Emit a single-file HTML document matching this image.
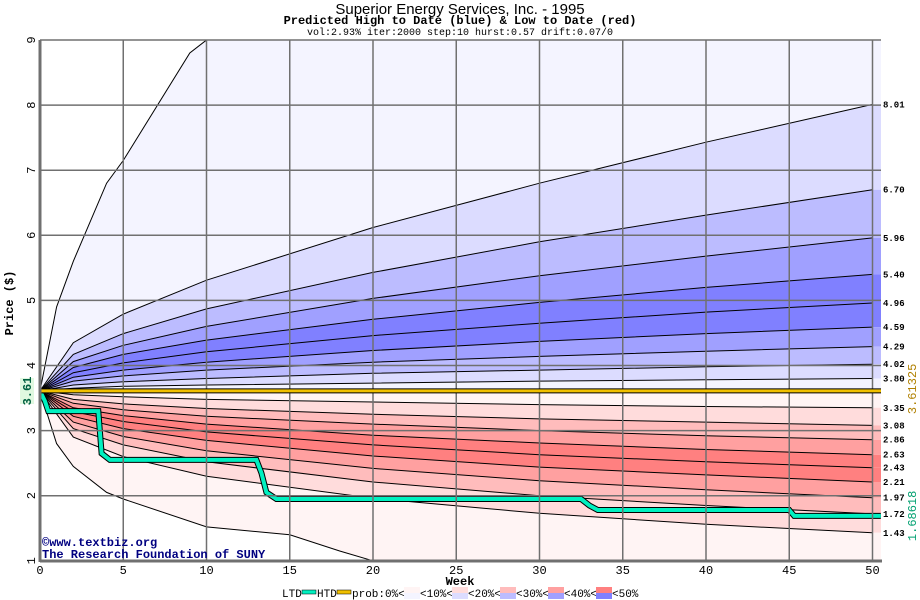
<!DOCTYPE html>
<html><head><meta charset="utf-8"><style>
body{margin:0;background:#fff;}
svg{display:block;font-family:"Liberation Mono","DejaVu Sans Mono",monospace;}
</style></head><body>
<svg id="c" width="920" height="600" xmlns="http://www.w3.org/2000/svg">
<text x="460" y="14" text-anchor="middle" font-size="15" font-family="Liberation Sans, sans-serif">Superior Energy Services, Inc. - 1995</text>
<text x="460" y="24" text-anchor="middle" font-size="12" font-weight="bold">Predicted High to Date (blue) &amp;  Low to Date (red)</text>
<text x="460" y="35" text-anchor="middle" font-size="10">vol:2.93% iter:2000 step:10 hurst:0.57 drift:0.07/0</text>
<g id="plot"></g>
<text x="460" y="585" text-anchor="middle" font-size="12" font-weight="bold">Week</text>
<text transform="translate(13,303) rotate(-90)" text-anchor="middle" font-size="12" font-weight="bold">Price ($)</text>
<g font-size="12" font-weight="bold" fill="#000080">
<text x="42" y="546">©www.textbiz.org</text>
<text x="42" y="558">The Research Foundation of SUNY</text>
</g>
<g id="legend" font-size="11"></g>
</svg>
<script>
const weeks=[0,2,5,10,20,30,40,50];
const upperEnds=[8.01,6.70,5.96,5.40,4.96,4.59,4.29,4.02,3.80];
const upperVals=[
[3.61,4.35,4.79,5.31,6.12,6.80,7.43,8.01],
[3.61,4.17,4.49,4.87,5.43,5.90,6.31,6.70],
[3.61,4.06,4.31,4.60,5.03,5.38,5.68,5.96],
[3.61,3.97,4.17,4.39,4.71,4.97,5.20,5.40],
[3.61,3.89,4.04,4.21,4.46,4.65,4.82,4.96],
[3.61,3.82,3.93,4.05,4.23,4.37,4.49,4.59],
[3.61,3.76,3.84,3.93,4.05,4.14,4.22,4.29],
[3.61,3.70,3.75,3.80,3.88,3.93,3.98,4.02],
[3.61,3.65,3.68,3.70,3.73,3.76,3.78,3.80]];
const lowerEnds=[3.35,3.08,2.86,2.63,2.43,2.21,1.97,1.72,1.43];
const lowerVals=[
[3.61,3.55,3.52,3.48,3.44,3.40,3.37,3.35],
[3.61,3.48,3.41,3.34,3.25,3.18,3.13,3.08],
[3.61,3.42,3.32,3.22,3.10,3.00,2.92,2.86],
[3.61,3.35,3.23,3.10,2.93,2.81,2.71,2.63],
[3.61,3.29,3.14,2.98,2.78,2.63,2.52,2.43],
[3.61,3.22,3.03,2.85,2.61,2.44,2.32,2.21],
[3.61,3.13,2.91,2.69,2.42,2.23,2.09,1.97],
[3.61,3.03,2.78,2.52,2.21,2.00,1.85,1.72],
[3.61,2.90,2.60,2.30,1.96,1.73,1.56,1.43]];
const outerUpWeeks=[0,1,2,4,5,9,10];
const outerUpVals=[3.61,4.9,5.6,6.8,7.15,8.8,9.0];
const outerLoWeeks=[0,1,2,4,5,10,15,18,20];
const outerLoVals=[3.61,2.8,2.45,2.05,1.95,1.52,1.40,1.15,1.0];
const ltdWeeks=[0,0.3,0.5,3.5,3.7,4.2,13,13.3,13.6,14.2,32.5,33,33.5,45,45.3,50.5];
const ltdVals=[3.61,3.45,3.30,3.30,2.65,2.55,2.55,2.35,2.05,1.95,1.95,1.85,1.78,1.78,1.69,1.69];
const htdVal=3.61;
const xTicks=[0,5,10,15,20,25,30,35,40,45,50];
const yTicks=[1,2,3,4,5,6,7,8,9];
const X0=40,XW=16.65,YT=40,YU=65.1,XR=881,YB=561;
const x=w=>X0+w*XW, y=v=>YT+(9-v)*YU;
const NS="http://www.w3.org/2000/svg";
const plot=document.getElementById('plot');
function mk(t,a,p){const e=document.createElementNS(NS,t);for(const k in a)e.setAttribute(k,a[k]);(p||plot).appendChild(e);return e;}
function pts(ws,vs){return ws.map((w,i)=>x(w).toFixed(1)+','+y(vs[i]).toFixed(1));}
const defs=mk('defs',{});const cp=mk('clipPath',{id:'cp'},defs);mk('rect',{x:X0,y:YT,width:XR-X0,height:YB-YT},cp);
const g=mk('g',{'clip-path':'url(#cp)'});
const upW=outerUpWeeks.concat([11,50.6]),upV=outerUpVals.concat([9.6,9.6]);
const loW=outerLoWeeks.concat([22,50.6]),loV=outerLoVals.concat([0.8,0.8]);
const upperCurves=[[upW,upV]].concat(upperVals.map(v=>[weeks,v]));
const lowerCurves=[[loW,loV]].concat(lowerVals.map(v=>[weeks,v]));
const flat=[[0,50.6],[3.61,3.61]];
const blueCols=['#f4f4ff','#dcdcff','#bcbcff','#a0a0ff','#8080ff','#8080ff','#a0a0ff','#bcbcff','#dcdcff','#f4f4ff'];
const redCols=['#fff4f4','#ffdcdc','#ffbcbc','#ffa0a0','#ff8080','#ff8080','#ffa0a0','#ffbcbc','#ffdcdc','#fff4f4'];
function ext(c){const w=c[0].slice(),v=c[1].slice();if(w[w.length-1]<50.6){w.push(50.6);v.push(v[v.length-1]);}return [w,v];}
function band(a,b,col,name){const A=ext(a),B=ext(b);const p=pts(A[0],A[1]).concat(pts(B[0],B[1]).reverse());
 const e=mk('polygon',{points:p.join(' '),fill:col},g);
 
 }
const uc=upperCurves.concat([flat]);
for(let i=0;i<10;i++)band(uc[i],uc[i+1],blueCols[i],'high-band-'+i);
const lc=[flat].concat(lowerCurves.slice(1).concat([lowerCurves[0]]));
for(let i=0;i<10;i++)band(lc[i],lc[i+1],redCols[i],'low-band-'+i);
xTicks.forEach(t=>{const l=mk('line',{x1:x(t),x2:x(t),y1:YT,y2:YB,stroke:'#707070','stroke-width':1.5});
 
 });
yTicks.forEach(t=>{const l=mk('line',{x1:X0,x2:XR,y1:y(t),y2:y(t),stroke:'#707070','stroke-width':1.5});
 
 });
upperCurves.concat(lowerCurves).forEach((c,i)=>{const e=mk('polyline',{points:pts(c[0],c[1]).join(' '),fill:'none',stroke:'#000','stroke-width':1},g);
 
 });
const h=mk('line',{x1:X0,x2:XR,y1:y(htdVal),y2:y(htdVal),stroke:'#000','stroke-width':5});


const h2=mk('line',{x1:X0,x2:XR,y1:y(htdVal),y2:y(htdVal),stroke:'#f0c000','stroke-width':3});


const lp=pts(ltdWeeks,ltdVals).join(' ');
const l1=mk('polyline',{points:lp,fill:'none',stroke:'#000','stroke-width':6},g);


const l2=mk('polyline',{points:lp,fill:'none',stroke:'#00f0c0','stroke-width':4},g);


mk('line',{x1:X0,x2:X0,y1:YT,y2:YB+1,stroke:'#707070','stroke-width':3});
mk('line',{x1:X0,x2:XR+1,y1:YB,y2:YB,stroke:'#707070','stroke-width':3});
mk('line',{x1:X0,x2:XR,y1:YT,y2:YT,stroke:'#707070','stroke-width':1});
xTicks.forEach(t=>{const e=mk('text',{x:x(t),y:YB+13,'text-anchor':'middle','font-size':12});e.textContent=t;
 
 });
yTicks.forEach(t=>{const e=mk('text',{transform:`translate(${X0-5},${y(t)}) rotate(-90)`,'text-anchor':'middle','font-size':12});e.textContent=t;
 
 });
upperEnds.concat(lowerEnds).forEach(v=>{const e=mk('text',{x:XR+2,y:y(v)+3,'font-size':9,'font-weight':'bold'});e.textContent=v.toFixed(2);
 
 });
mk('rect',{x:20,y:378,width:14,height:26,fill:'#e0f8e0'});
const s=mk('text',{transform:`translate(31,391) rotate(-90)`,'text-anchor':'middle','font-size':12,'font-weight':'bold',fill:'#006040'});s.textContent='3.61';


const hl=mk('text',{transform:`translate(916,${y(htdVal)-2}) rotate(-90)`,'text-anchor':'middle','font-size':12,fill:'#b08000'});hl.textContent='3.61325';


const ll=mk('text',{transform:`translate(916,${y(1.69)}) rotate(-90)`,'text-anchor':'middle','font-size':12,fill:'#00a070'});ll.textContent='1.68618';


const lg=document.getElementById('legend');
const legendItems=[['LTD','#00f0c0'],['HTD','#f0c000']];
let lx=282;
legendItems.forEach(it=>{const t=mk('text',{x:lx,y:597},lg);t.textContent=it[0];lx+=20;
 mk('rect',{x:lx,y:590,width:14,height:4,fill:it[1],stroke:'#000','stroke-width':0.5},lg);lx+=15;});
const pt=mk('text',{x:lx,y:597},lg);pt.textContent='prob:0%<';
let bx=404;
const legLabels=['<10%<','<20%<','<30%<','<40%<','<50%'];
const legR=['#fff4f4','#ffdcdc','#ffbcbc','#ffa0a0','#ff8080'],legB=['#f4f4ff','#dcdcff','#bcbcff','#a0a0ff','#8080ff'];
legLabels.forEach((lab,i)=>{mk('rect',{x:bx,y:587,width:16,height:6,fill:legR[i]},lg);mk('rect',{x:bx,y:593,width:16,height:6,fill:legB[i]},lg);
 const t=mk('text',{x:bx+16,y:597},lg);t.textContent=lab;bx+=48;});
</script>
</body></html>
